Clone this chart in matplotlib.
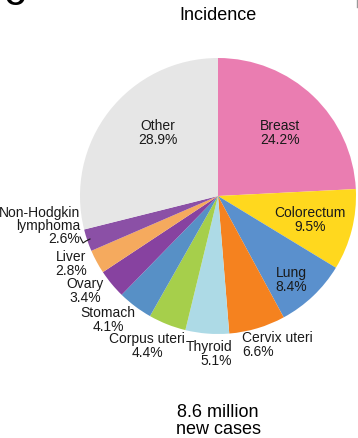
import matplotlib.pyplot as plt

plt.rcParams['font.family'] = ['Liberation Sans', 'DejaVu Sans']

# cancer sites, clockwise from 12 o'clock
sitios = ['Breast', 'Colorectum', 'Lung', 'Cervix uteri', 'Thyroid', 'Corpus uteri',
          'Stomach', 'Ovary', 'Liver', 'Non-Hodgkin\nlymphoma', 'Other']
porcentajes = [24.2, 9.5, 8.4, 6.6, 5.1, 4.4, 4.1, 3.4, 2.8, 2.6, 28.9]
colores = ['#EA7DB1', '#FFD81E', '#5A90CD', '#F5821F', '#ADDAE6', '#A6CF4B',
           '#5790C6', '#8742A0', '#F5AA5E', '#8B50A6', '#E6E6E6']

W, H = 358, 438
fig = plt.figure(figsize=(W / 100, H / 100), dpi=100)
ax = fig.add_axes([0, 0, 1, 1])

cx, cy, r = 218, H - 196, 138
ax.pie(porcentajes, colors=colores, startangle=90, counterclock=False,
       center=(cx, cy), radius=r, wedgeprops=dict(linewidth=0), frame=True)
ax.set_xlim(0, W)
ax.set_ylim(0, H)
ax.set_aspect('equal')
ax.axis('off')

def etiqueta(i, x, y, ha='center'):
    ax.text(x, H - y, f"{sitios[i]}\n{porcentajes[i]}%", ha=ha, va='center',
            fontsize=10, linespacing=0.95, color='#1a1a1a')

etiqueta(0, 280, 133)
etiqueta(1, 310, 220)
etiqueta(2, 291, 280)
etiqueta(3, 242, 345, ha='left')
etiqueta(4, 232, 354, ha='right')
etiqueta(5, 147, 346)
etiqueta(6, 108, 320)
etiqueta(7, 85, 291)
etiqueta(8, 71, 264)
etiqueta(9, 80, 226, ha='right')
etiqueta(10, 158, 133)

# connector from NHL label to its wedge
ax.plot([80, 83, 86, 90], [H - 237, H - 243, H - 241, H - 239], color='#1a1a1a', lw=0.8)

ax.text(218, H - 16, 'Incidence', ha='center', va='center', fontsize=13)
ax.text(218, H - 421, '8.6 million\nnew cases', ha='center', va='center',
        fontsize=13, linespacing=1.0)
ax.text(15, H + 2, 'C', ha='center', va='center', fontsize=20, fontweight='bold')
ax.plot([357, 357], [H, H - 7], color='#999999', lw=1)

fig.savefig('out.png', dpi=100)
